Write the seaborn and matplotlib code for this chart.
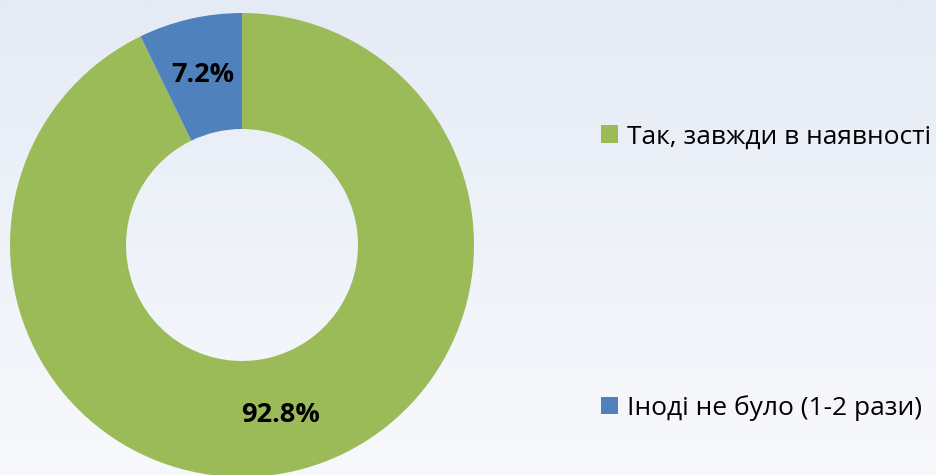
import numpy as np
import matplotlib
matplotlib.use("Agg")
import matplotlib.pyplot as plt
import seaborn as sns

categories = ["Так, завжди в наявності", "Іноді не було (1-2 рази)"]
values = [92.8, 7.2]
colors = ["#9BBB59", "#4F81BD"]

sns.set_theme(style="white")
plt.rcParams['font.family'] = ['Open Sans', 'DejaVu Sans']

W, H = 937, 475
fig = plt.figure(figsize=(W / 100, H / 100), dpi=100)

# gradient background
bg = fig.add_axes([0, 0, 1, 1], zorder=0)
top = np.array([229, 235, 245]) / 255
bot = np.array([248, 249, 252]) / 255
t = np.linspace(0, 1, 256)[:, None]
grad = (top[None, :] * (1 - t) + bot[None, :] * t)[:, None, :]
bg.imshow(grad, aspect="auto", extent=[0, 1, 0, 1], origin="upper")
bg.set_axis_off()

cx, cy, r = 242, 245, 232
ax = fig.add_axes([(cx - r) / W, (H - cy - r) / H, 2 * r / W, 2 * r / H], zorder=1)
ax.patch.set_alpha(0)
wedges, _ = ax.pie(values, colors=colors, startangle=90, counterclock=False,
                   radius=1, wedgeprops=dict(width=0.5, linewidth=0))
for w, v in zip(wedges, values):
    ang = np.deg2rad((w.theta1 + w.theta2) / 2)
    ax.text(0.75 * np.cos(ang), 0.75 * np.sin(ang), f"{v:.1f}%",
            ha="center", va="center", fontsize=19.5, fontweight="bold", color="black")
ax.set_xlim(-1, 1)
ax.set_ylim(-1, 1)
ax.set_aspect("equal")
ax.set_axis_off()

leg = fig.legend(wedges, categories, loc="upper left",
                 bbox_to_anchor=(590 / W, 1 - 114 / H),
                 frameon=False, fontsize=19, handlelength=0.65, handleheight=0.65,
                 handletextpad=0.35, labelspacing=9.3, borderaxespad=0,
                 labelcolor="black")

fig.savefig("out.png", dpi=100)
